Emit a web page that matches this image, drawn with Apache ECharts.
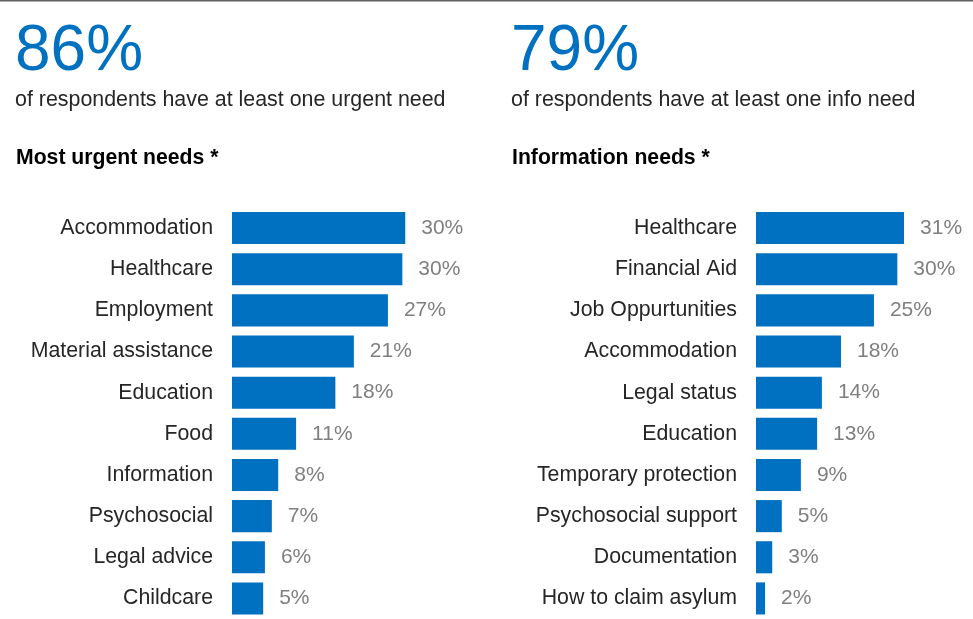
<!DOCTYPE html>
<html>
<head>
<meta charset="utf-8">
<script src="https://cdn.jsdelivr.net/npm/echarts@6/dist/echarts.min.js"></script>
<style>
  html, body { margin: 0; padding: 0; background: #fff; }
  #chart { width: 973px; height: 619px; }
</style>
</head>
<body>
<div id="chart"></div>
<script>
// left panel
var urgentNeeds = ['Accommodation', 'Healthcare', 'Employment', 'Material assistance', 'Education',
    'Food', 'Information', 'Psychosocial', 'Legal advice', 'Childcare'];
var urgentValues = [30, 29.5, 27, 21.1, 17.9, 11.1, 8, 6.9, 5.7, 5.4];

// right panel
var infoNeeds = ['Healthcare', 'Financial Aid', 'Job Oppurtunities', 'Accommodation', 'Legal status',
    'Education', 'Temporary protection', 'Psychosocial support', 'Documentation', 'How to claim asylum'];
var infoValues = [31, 29.6, 24.7, 17.8, 13.8, 12.8, 9.4, 5.4, 3.4, 1.9];

var headline = ['86%', '79%'];
var subline = ['of respondents have at least one urgent need', 'of respondents have at least one info need'];
var panelTitle = ['Most urgent needs *', 'Information needs *'];

var BLUE = '#0070c0';
var FONT = 'Arial, "Liberation Sans", sans-serif';

var chart = echarts.init(document.getElementById('chart'));

function yAxisFor(idx, cats) {
    return {
        type: 'category',
        gridIndex: idx,
        data: cats,
        inverse: true,
        axisLine: {show: false},
        axisTick: {show: false},
        axisLabel: {fontSize: 21.3, color: '#262626', margin: 19, fontFamily: FONT, padding: [3, 0, 0, 0]}
    };
}
function xAxisFor(idx) {
    return {
        type: 'value', gridIndex: idx, min: 0, max: 40,
        show: false, splitLine: {show: false}
    };
}
function barsFor(idx, vals) {
    return {
        type: 'bar',
        xAxisIndex: idx, yAxisIndex: idx,
        data: vals,
        barCategoryGap: '22%',
        itemStyle: {color: BLUE},
        silent: true,
        label: {
            show: true, position: 'right', distance: 16,
            fontSize: 21, color: '#7f7f7f', fontFamily: FONT, padding: [3, 0, 0, 0],
            formatter: function (p) { return Math.round(p.value) + '%'; }
        }
    };
}

var texts = [];
[15, 511].forEach(function (x, i) {
    texts.push({type: 'text', left: x, top: 20, style: {text: headline[i], fill: BLUE, font: '64px ' + FONT}});
    texts.push({type: 'text', left: x, top: 90, style: {text: subline[i], fill: '#262626', font: '21.4px ' + FONT}});
    texts.push({type: 'text', left: x + 1, top: 148, style: {text: panelTitle[i], fill: '#000', font: 'bold 21.2px ' + FONT}});
});
texts.push({type: 'rect', left: 0, top: 0, shape: {width: 973, height: 1.5}, style: {fill: '#606060'}});

chart.setOption({
    animation: false,
    grid: [
        {left: 232, top: 207.5, width: 231, height: 412},
        {left: 756, top: 207.5, width: 191, height: 412}
    ],
    xAxis: [xAxisFor(0), xAxisFor(1)],
    yAxis: [yAxisFor(0, urgentNeeds), yAxisFor(1, infoNeeds)],
    series: [barsFor(0, urgentValues), barsFor(1, infoValues)],
    graphic: texts
});
</script>
</body>
</html>
